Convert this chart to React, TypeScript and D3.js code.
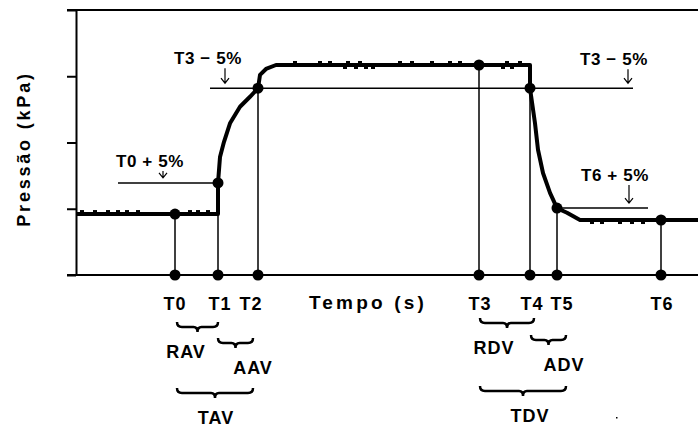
import React, { useEffect, useRef } from 'react'
import * as d3 from 'd3'

// event markers on the pressure trace
const markerNames = ['T0', 'T1', 'T2', 'T3', 'T4', 'T5', 'T6'];
const markerTimes = [9.9, 14.2, 18.2, 40.3, 45.4, 48.1, 58.5];
const markerPressures = [0.92, 1.39, 2.82, 3.17, 2.82, 1.01, 0.83];
const markerLabelTimes = [9.9, 14.4, 17.5, 40.4, 45.6, 48.6, 58.6];

// pressure trace
const traceTimes = [0, 14.2, 14.2, 14.4, 14.8, 15.4, 16.4, 17.4, 18.2, 18.4, 19.0, 20.0,
  45.4, 45.4, 45.9, 46.2, 46.7, 47.4, 48.1, 49.1, 50.4, 62.2];
const tracePressures = [0.92, 0.92, 1.39, 1.78, 2.01, 2.29, 2.54, 2.69, 2.82, 3.02, 3.11, 3.17,
  3.17, 2.82, 2.29, 1.89, 1.54, 1.24, 1.01, 0.94, 0.83, 0.83];

// little signal noise blips (time, level, +1 above / -1 below)
const blipTimes = [0.6, 1.9, 3.2, 4.2, 5.1, 6.2, 11.4, 12.2, 13.2,
  21.9, 24.4, 25.4, 27.2, 28.4, 32.4, 33.6, 35.6, 37.4, 38.4, 43.1, 44.4,
  26.9, 28.0, 29.0, 29.7, 42.7, 43.6,
  51.6, 52.6, 54.4, 55.6, 56.7];
const blipLevels = [0.92, 0.92, 0.92, 0.92, 0.92, 0.92, 0.92, 0.92, 0.92,
  3.17, 3.17, 3.17, 3.17, 3.17, 3.17, 3.17, 3.17, 3.17, 3.17, 3.17, 3.17,
  3.17, 3.17, 3.17, 3.17, 3.17, 3.17,
  0.83, 0.83, 0.83, 0.83, 0.83];
const blipSides = [1, 1, 1, 1, 1, 1, 1, 1, 1,
  1, 1, 1, 1, 1, 1, 1, 1, 1, 1, 1, 1,
  -1, -1, -1, -1, -1, -1,
  -1, -1, -1, -1, -1];

// threshold lines
const thresholdLevels = [1.39, 2.82, 1.01];
const thresholdFrom = [4.2, 13.4, 48.1];
const thresholdTo = [14.2, 55.7, 57.2];

// threshold labels with arrows
const annLabels = ['T0 + 5%', 'T3 − 5%', 'T3 − 5%', 'T6 + 5%'];
const annLevels = [1.39, 2.82, 2.82, 1.01];
const annTextTimes = [7.4, 13.2, 53.8, 53.9];
const annArrowTimes = [8.7, 14.9, 55.2, 55.3];
const annGaps = [16, 24, 23, 27];

// interval braces
const braceLabels = ['RAV', 'AAV', 'TAV', 'RDV', 'ADV', 'TDV'];
const braceFrom = [10.1, 14.2, 10.1, 40.4, 45.5, 40.4];
const braceTo = [14.2, 17.7, 17.7, 45.8, 49.0, 49.0];
const braceLabelTimes = [11.0, 17.7, 14.0, 41.8, 48.8, 45.4];
const braceRows = [322, 338, 388, 318, 335, 386];

const width = 698;
const height = 427;
const font = "'Liberation Sans', Arial, sans-serif";

const xScale = d3.scaleLinear().domain([0, 62.2]).range([76, 698]);
const yScale = d3.scaleLinear().domain([0, 4]).range([275, 10]);

const trace = traceTimes.map((t, i) => [t, tracePressures[i]] as [number, number]);
const line = d3.line<[number, number]>()
  .x(d => xScale(d[0]))
  .y(d => yScale(d[1]));

const bracePath = (x0: number, x1: number, y: number) => {
  const xm = (x0 + x1) / 2;
  return `M${x0},${y} Q${x0},${y + 5} ${x0 + 5},${y + 5} L${xm - 4},${y + 5} ` +
    `Q${xm},${y + 5} ${xm},${y + 10} Q${xm},${y + 5} ${xm + 4},${y + 5} ` +
    `L${x1 - 5},${y + 5} Q${x1},${y + 5} ${x1},${y}`;
};

const App = () => {
  const axisRef = useRef<SVGGElement>(null);

  useEffect(() => {
    const g = d3.select(axisRef.current);
    g.selectAll('*').remove();
    g.call(
      d3.axisLeft(yScale)
        .tickValues([0, 1, 2, 3, 4])
        .tickSize(9)
        .tickSizeOuter(0)
        .tickFormat(() => '')
    );
    g.select('.domain').attr('stroke', '#000').attr('stroke-width', 2);
    g.selectAll('.tick line').attr('stroke', '#000').attr('stroke-width', 2);
  }, []);

  const [xMin, xMax] = xScale.domain();

  return (
    <svg width={width} height={height} style={{ position: 'absolute', left: 0, top: 0, background: '#fff' }}
      fontFamily={font} fontWeight='bold'>
      <g ref={axisRef} transform={`translate(${xScale(xMin)},0)`} />
      <line x1={xScale(xMin) - 9} x2={xScale(xMax)} y1={yScale(0)} y2={yScale(0)} stroke='#000' strokeWidth={2} />
      <line x1={xScale(xMin) - 9} x2={xScale(xMax)} y1={yScale(4)} y2={yScale(4)} stroke='#000' strokeWidth={2} />

      {thresholdLevels.map((p, i) => (
        <line key={'th' + i} x1={xScale(thresholdFrom[i])} x2={xScale(thresholdTo[i])}
          y1={yScale(p)} y2={yScale(p)} stroke='#000' strokeWidth={1.5} />
      ))}

      {markerTimes.map((t, i) => (
        <line key={'ml' + i} x1={xScale(t)} x2={xScale(t)} y1={yScale(0)} y2={yScale(markerPressures[i])}
          stroke='#000' strokeWidth={1.5} />
      ))}

      <path d={line(trace) || ''} fill='none' stroke='#000' strokeWidth={4} strokeLinejoin='round' />

      {blipTimes.map((t, i) => (
        <rect key={'b' + i} x={xScale(t) - 2}
          y={blipSides[i] > 0 ? yScale(blipLevels[i]) - 4 : yScale(blipLevels[i]) + 1.5}
          width={4} height={2.5} fill='#000' />
      ))}

      {markerTimes.map((t, i) => (
        <g key={'m' + i}>
          <circle cx={xScale(t)} cy={yScale(markerPressures[i])} r={5.5} fill='#000' />
          <circle cx={xScale(t)} cy={yScale(0)} r={5.5} fill='#000' />
          <text x={xScale(markerLabelTimes[i])} y={310} textAnchor='middle' fontSize={18}
            letterSpacing={1}>{markerNames[i]}</text>
        </g>
      ))}

      {annLabels.map((s, i) => {
        const ly = yScale(annLevels[i]);
        const base = ly - annGaps[i];
        const ax = xScale(annArrowTimes[i]);
        const tip = ly - 5;
        return (
          <g key={'a' + i}>
            <text x={xScale(annTextTimes[i])} y={base} textAnchor='middle' fontSize={17}
              letterSpacing={0.6}>{s}</text>
            <path d={`M${ax},${base + 4} L${ax},${tip} M${ax - 4},${tip - 5} L${ax},${tip} L${ax + 4},${tip - 5}`}
              fill='none' stroke='#000' strokeWidth={1.2} />
          </g>
        );
      })}

      {braceLabels.map((s, i) => (
        <g key={'br' + i}>
          <path d={bracePath(xScale(braceFrom[i]), xScale(braceTo[i]), braceRows[i])}
            fill='none' stroke='#000' strokeWidth={2.5} />
          <text x={xScale(braceLabelTimes[i])} y={braceRows[i] + 36} textAnchor='middle' fontSize={18}
            letterSpacing={1}>{s}</text>
        </g>
      ))}

      <text x={368} y={309} textAnchor='middle' fontSize={19} letterSpacing={3.2}>Tempo (s)</text>
      <text transform='translate(30,149) rotate(-90)' textAnchor='middle' fontSize={18}
        letterSpacing={2.8}>Pressão (kPa)</text>
      <rect x={616} y={417} width={1.5} height={1.5} fill='#000' />
    </svg>
  );
};

export default App
